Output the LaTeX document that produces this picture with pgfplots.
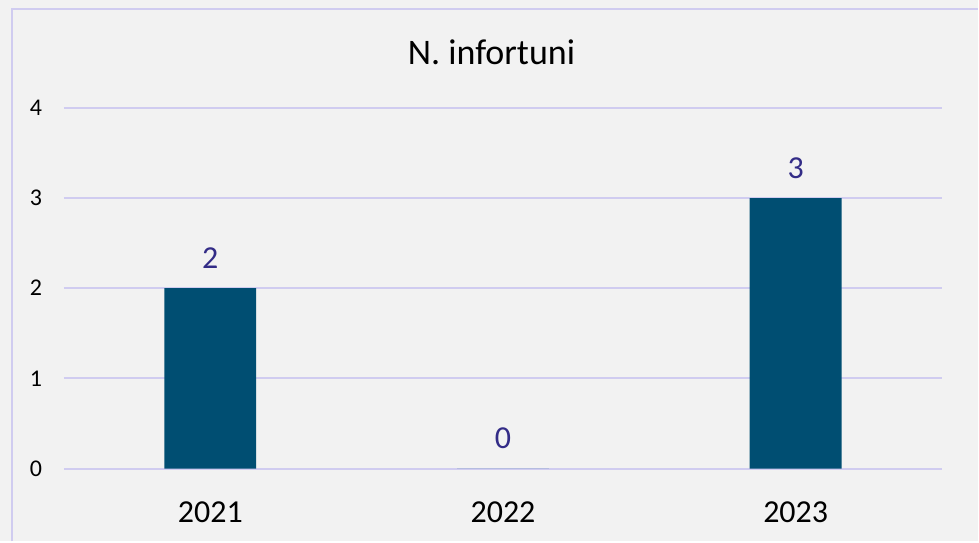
\documentclass[border=0pt]{standalone}
\usepackage{pgfplots}
\pgfplotsset{compat=1.18}
\usepackage{fontspec}
\setmainfont{Carlito}
\definecolor{bg}{HTML}{F2F2F2}
\definecolor{frame}{HTML}{D0CCF0}
\definecolor{barblue}{HTML}{004E72}
\definecolor{lbl}{HTML}{332C87}
\begin{document}
\begin{tikzpicture}
% background and frame (1px = 1pt)
\fill[bg] (0,0) rectangle (979pt,542pt);
\draw[frame, line width=2pt] (12pt,0) -- (12pt,533pt) -- (979pt,533pt);
\begin{axis}[
  at={(64pt,73pt)}, anchor=south west,
  scale only axis, width=879pt, height=361pt,
  xmin=-0.5, xmax=2.5, ymin=0, ymax=4,
  xtick={0,1,2}, xticklabels={2021,2022,2023},
  ytick={0,1,2,3,4},
  axis line style={draw=none}, major tick length=0pt,
  ymajorgrids, grid style={frame, line width=2pt},
  clip=false,
  /pgf/number format/assume math mode=true,
  yticklabel style={font=\fontsize{24}{28}\selectfont, anchor=center, xshift=-28pt},
  xticklabel style={font=\fontsize{32}{38}\selectfont, anchor=center, yshift=-44pt},
  ybar, bar width=92pt,
  nodes near coords,
  every node near coord/.append style={font=\fontsize{32}{38}\selectfont, text=lbl, anchor=center, yshift=30pt},
]
  \addplot[fill=barblue, draw=none] coordinates {(0,2) (1,0) (2,3)};
\end{axis}
\node[font=\fontsize{36}{42}\selectfont, text=black] at (492pt,490pt) {N. infortuni};
\end{tikzpicture}
\end{document}
